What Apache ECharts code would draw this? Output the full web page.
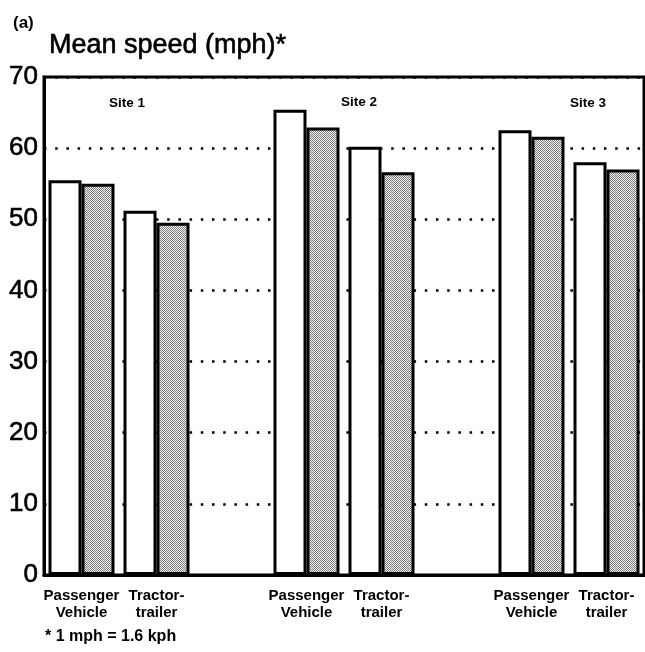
<!DOCTYPE html>
<html>
<head>
<meta charset="utf-8">
<script src="https://cdn.jsdelivr.net/npm/echarts@6/dist/echarts.min.js"></script>
<style>
html,body{margin:0;padding:0;background:#fff;}
#chart{width:645px;height:652px;}
</style>
</head>
<body>
<div id="chart"></div>
<script>
// Data
const categories = ["Passenger\nVehicle", "Tractor-\ntrailer", "", "Passenger\nVehicle", "Tractor-\ntrailer", "", "Passenger\nVehicle", "Tractor-\ntrailer"];
const whiteBars = [55.5, 51.2, '-', 65.4, 60.2, '-', 62.5, 58.0];
const grayBars = [55.0, 49.5, '-', 62.9, 56.6, '-', 61.6, 57.0];
const siteLabels = ["Site 1", "Site 2", "Site 3"];
const yTicks = [0, 10, 20, 30, 40, 50, 60, 70];

// stipple pattern
const pc = document.createElement('canvas');
pc.width = 2; pc.height = 2;
const px = pc.getContext('2d');
px.fillStyle = '#f4f4f4'; px.fillRect(0, 0, 2, 2);
px.fillStyle = '#7c7c7c'; px.fillRect(0, 0, 1, 1); px.fillRect(1, 1, 1, 1);

const chart = echarts.init(document.getElementById('chart'), null, {renderer: 'canvas'});
const font = '"Liberation Sans", Arial, Helvetica, sans-serif';

chart.setOption({
  animation: false,
  backgroundColor: '#fff',
  textStyle: {fontFamily: font},
  title: [
    {text: '(a)', left: 8, top: 10, textStyle: {fontFamily: font, fontSize: 17, fontWeight: 'bold', color: '#000'}},
    {text: 'Mean speed (mph)*', left: 44, top: 27, textStyle: {fontFamily: font, fontSize: 27, fontWeight: 'normal', color: '#000', textBorderColor: '#000', textBorderWidth: 0.6}}
  ],
  grid: {left: 44, top: 77, width: 600, height: 498, show: true, borderColor: '#000', borderWidth: 3, backgroundColor: 'transparent'},
  xAxis: {
    type: 'category',
    data: categories,
    axisTick: {show: false},
    axisLine: {lineStyle: {color: '#000', width: 3}},
    axisLabel: {interval: 0, color: '#000', fontFamily: font, fontSize: 15, fontWeight: 'bold', lineHeight: 17, margin: 12}
  },
  yAxis: {
    type: 'value',
    min: yTicks[0], max: yTicks[yTicks.length - 1], interval: 10,
    axisLine: {show: true, lineStyle: {color: '#000', width: 3}},
    axisTick: {show: false},
    axisLabel: {color: '#000', fontFamily: font, fontSize: 26, margin: 6, textBorderColor: '#000', textBorderWidth: 0.6},
    splitLine: {show: true, lineStyle: {color: '#000', width: 2.5, type: [2.5, 8.7]}}
  },
  series: [
    {
      type: 'bar', data: whiteBars, barWidth: 33, barGap: '0%',
      itemStyle: {color: '#fff', borderColor: '#000', borderWidth: 3}
    },
    {
      type: 'bar', data: grayBars, barWidth: 33, barGap: '0%',
      itemStyle: {color: {image: pc, repeat: 'repeat'}, borderColor: '#000', borderWidth: 3}
    }
  ],
  graphic: [
    {type: 'text', x: 127, y: 103, style: {text: siteLabels[0], font: 'bold 13.5px ' + font, fill: '#000', textAlign: 'center', textVerticalAlign: 'middle'}},
    {type: 'text', x: 359, y: 102, style: {text: siteLabels[1], font: 'bold 13.5px ' + font, fill: '#000', textAlign: 'center', textVerticalAlign: 'middle'}},
    {type: 'text', x: 588, y: 103, style: {text: siteLabels[2], font: 'bold 13.5px ' + font, fill: '#000', textAlign: 'center', textVerticalAlign: 'middle'}},
    {type: 'text', x: 45, y: 637, style: {text: '* 1 mph = 1.6 kph', font: 'bold 16px ' + font, fill: '#000', textAlign: 'left', textVerticalAlign: 'middle'}}
  ]
});
</script>
</body>
</html>
